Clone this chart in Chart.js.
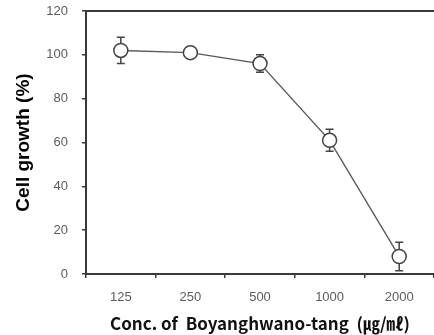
<!DOCTYPE html>
<html>
<head>
<meta charset="utf-8">
<script src="https://cdn.jsdelivr.net/npm/chart.js@4.4.1/dist/chart.umd.min.js"></script>
<style>
  html, body { margin: 0; padding: 0; background: #fff; }
  #wrap { width: 434px; height: 335px; }
</style>
</head>
<body>
<div id="wrap"><canvas id="chart-growth"></canvas></div>
<script>
'use strict';

/* ── Data ── */
const doses   = ['125', '250', '500', '1000', '2000'];
const growth  = [102, 101, 96, 61, 8];
const errSd   = [6, 2.5, 4, 5, 6.5];
const yTicks  = [0, 20, 40, 60, 80, 100, 120];

/* ── Theme ── */
const C = {
  axis:  '#3a3a3a',
  line:  '#5a5a5a',
  mark:  '#444444',
  tick:  '#5c5c5c',
};

/* error bars, drawn under the markers */
const errorBars = {
  id: 'errorBars',
  beforeDatasetsDraw(chart) {
    const { ctx, scales: { x, y } } = chart;
    ctx.save();
    ctx.strokeStyle = C.mark;
    ctx.lineWidth = 1.5;
    growth.forEach((v, i) => {
      const px  = x.getPixelForValue(i);
      const top = y.getPixelForValue(v + errSd[i]);
      const bot = y.getPixelForValue(v - errSd[i]);
      ctx.beginPath();
      ctx.moveTo(px, top); ctx.lineTo(px, bot);
      ctx.moveTo(px - 4, top); ctx.lineTo(px + 4, top);
      ctx.moveTo(px - 4, bot); ctx.lineTo(px + 4, bot);
      ctx.stroke();
    });
    ctx.restore();
  },
};

/* top edge of the frame */
const frameTop = {
  id: 'frameTop',
  afterDraw(chart) {
    const { ctx, chartArea: a } = chart;
    ctx.save();
    ctx.strokeStyle = C.axis;
    ctx.lineWidth = 2;
    ctx.beginPath();
    ctx.moveTo(a.left, a.top);
    ctx.lineTo(a.right, a.top);
    ctx.stroke();
    ctx.restore();
  },
};

new Chart(document.getElementById('chart-growth'), {
  type: 'line',
  data: {
    labels: doses,
    datasets: [{
      data: growth,
      borderColor: C.line,
      borderWidth: 1.4,
      pointRadius: 7,
      pointHoverRadius: 7,
      pointBackgroundColor: '#fff',
      pointBorderColor: C.mark,
      pointBorderWidth: 1.5,
      tension: 0,
    }],
  },
  options: {
    responsive: true,
    maintainAspectRatio: false,
    animation: false,
    layout: { autoPadding: false, padding: { top: 11, right: 0, left: 0, bottom: 0 } },
    plugins: { legend: { display: false }, tooltip: { enabled: false } },
    scales: {
      x: {
        offset: true,
        grid: { offset: true, drawOnChartArea: false, drawTicks: true, tickLength: 4, color: C.axis, lineWidth: 1.5 },
        border: { color: C.axis, width: 2 },
        ticks: { color: C.tick, padding: 12, font: { family: "'Liberation Sans', Arial, sans-serif", size: 13 } },
        title: {
          display: true,
          text: 'Conc. of  Boyanghwano-tang  (㎍/㎖)',
          color: '#111',
          padding: { top: 0, bottom: 1 },
          font: { family: "'Noto Sans CJK KR', sans-serif", size: 17, weight: 'bold' },
        },
        afterFit(scale) {
          scale.height = 61;
          scale.paddingLeft = 0;
          scale.paddingRight = 0;
        },
      },
      y: {
        min: 0,
        max: 120,
        afterBuildTicks(scale) { scale.ticks = yTicks.map(v => ({ value: v })); },
        grid: { drawOnChartArea: false, drawTicks: true, tickLength: 4, color: C.axis, lineWidth: 1.5 },
        border: { color: C.axis, width: 2 },
        ticks: { color: C.tick, padding: 14, font: { family: "'Liberation Sans', Arial, sans-serif", size: 13 } },
        title: {
          display: true,
          text: 'Cell growth (%)',
          color: '#000',
          padding: { top: 12, bottom: 0 },
          font: { family: "'Liberation Sans', Arial, sans-serif", size: 19, weight: 'bold' },
        },
        afterFit(scale) {
          scale.width = 86;
          scale.paddingTop = 0;
          scale.paddingBottom = 0;
        },
      },
    },
  },
  plugins: [errorBars, frameTop],
});
</script>
</body>
</html>
